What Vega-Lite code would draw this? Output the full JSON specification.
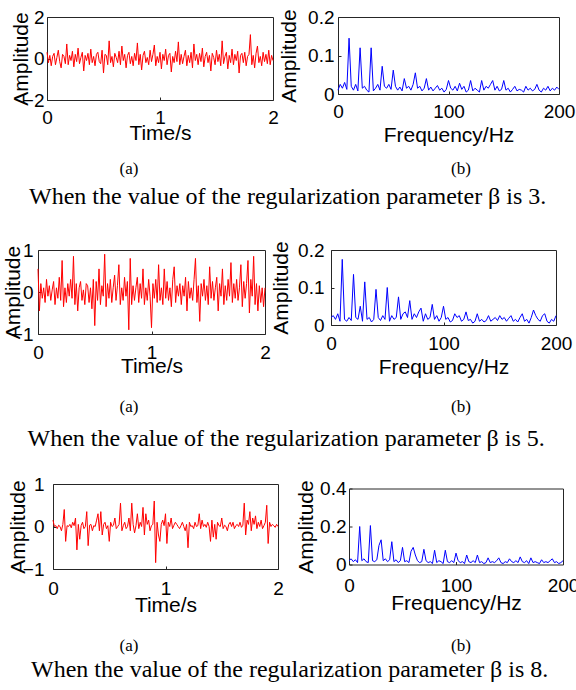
{
"$schema": "https://vega.github.io/schema/vega-lite/v6.json",
"background": "white",
"padding": {"left": 0, "top": 7, "right": 0, "bottom": 0},
"config": {
 "view": {"stroke": "#262626", "strokeWidth": 1},
 "axis": {"domain": false, "grid": false, "ticks": true, "tickSize": -3, "tickColor": "#262626", "labelFont": "Liberation Sans", "labelFontSize": 19, "labelColor": "#000", "titleFont": "Liberation Sans", "titleFontSize": 21, "titleFontWeight": "normal", "titleColor": "#000", "labelOverlap": false, "labelFlush": false, "format": "d"},
 "title": {"font": "Liberation Serif", "fontSize": 17, "fontWeight": "normal", "color": "#000", "orient": "bottom", "frame": "group", "anchor": "middle"}
},
"datasets": {
"time": [
{"t":0,"b3":0.3,"b5":0.55,"b8":0.15},{"t":0.0125,"b3":-0.2,"b5":-0.45,"b8":0},{"t":0.025,"b3":0.15,"b5":0.2,"b8":0.02},{"t":0.0375,"b3":-0.35,"b5":-0.15,"b8":-0.05},{"t":0.05,"b3":0.1,"b5":0.1,"b8":0.03},{"t":0.0625,"b3":0.25,"b5":-0.25,"b8":0},{"t":0.075,"b3":-0.3,"b5":0.3,"b8":-0.1},{"t":0.0875,"b3":0.05,"b5":-0.1,"b8":0.05},
{"t":0.1,"b3":0.4,"b5":0.15,"b8":0.4},{"t":0.1125,"b3":-0.15,"b5":-0.2,"b8":-0.35},{"t":0.125,"b3":-0.45,"b5":0.05,"b8":0.02},{"t":0.1375,"b3":0.2,"b5":0.25,"b8":0},{"t":0.15,"b3":0.1,"b5":-0.3,"b8":0.05},{"t":0.1625,"b3":-0.25,"b5":0.1,"b8":-0.03},{"t":0.175,"b3":0.7,"b5":-0.15,"b8":0.1},{"t":0.1875,"b3":-0.3,"b5":0.35,"b8":0.02},
{"t":0.2,"b3":0.15,"b5":-0.2,"b8":0.2},{"t":0.2125,"b3":-0.1,"b5":0.75,"b8":-0.55},{"t":0.225,"b3":0.35,"b5":-0.35,"b8":0.05},{"t":0.2375,"b3":-0.4,"b5":0.1,"b8":-0.3},{"t":0.25,"b3":0.2,"b5":-0.25,"b8":0.02},{"t":0.2625,"b3":-0.15,"b5":0.2,"b8":0.1},{"t":0.275,"b3":0.5,"b5":-0.1,"b8":-0.05},{"t":0.2875,"b3":-0.25,"b5":0.3,"b8":0},
{"t":0.3,"b3":0.05,"b5":-0.15,"b8":0.35},{"t":0.3125,"b3":0.3,"b5":0.85,"b8":-0.45},{"t":0.325,"b3":-0.6,"b5":-0.3,"b8":0.03},{"t":0.3375,"b3":0.15,"b5":0.2,"b8":0.05},{"t":0.35,"b3":-0.1,"b5":-0.45,"b8":-0.1},{"t":0.3625,"b3":0.25,"b5":0.1,"b8":0.02},{"t":0.375,"b3":-0.3,"b5":0.25,"b8":0},{"t":0.3875,"b3":0.45,"b5":-0.2,"b8":0.15},
{"t":0.4,"b3":-0.2,"b5":0.05,"b8":0.3},{"t":0.4125,"b3":0.1,"b5":-0.3,"b8":-0.1},{"t":0.425,"b3":-0.35,"b5":0.2,"b8":0.35},{"t":0.4375,"b3":0.2,"b5":0.15,"b8":-0.2},{"t":0.45,"b3":0.3,"b5":-0.25,"b8":0.05},{"t":0.4625,"b3":-0.15,"b5":0.1,"b8":0.1},{"t":0.475,"b3":-0.25,"b5":-0.4,"b8":-0.05},{"t":0.4875,"b3":0.4,"b5":0.3,"b8":0.02},
{"t":0.5,"b3":-0.7,"b5":-0.8,"b8":-0.35},{"t":0.5125,"b3":0.2,"b5":0.25,"b8":0.1},{"t":0.525,"b3":0.15,"b5":-0.2,"b8":0},{"t":0.5375,"b3":-0.3,"b5":0.55,"b8":0.03},{"t":0.55,"b3":0.85,"b5":-0.3,"b8":0.2},{"t":0.5625,"b3":-0.2,"b5":0.15,"b8":-0.05},{"t":0.575,"b3":0.1,"b5":-0.1,"b8":0},{"t":0.5875,"b3":-0.4,"b5":0.9,"b8":0.05},
{"t":0.6,"b3":0.25,"b5":-0.35,"b8":0.55},{"t":0.6125,"b3":0.05,"b5":0.2,"b8":-0.1},{"t":0.625,"b3":-0.2,"b5":-0.15,"b8":0.02},{"t":0.6375,"b3":0.35,"b5":0.3,"b8":0.1},{"t":0.65,"b3":-0.3,"b5":-0.25,"b8":-0.05},{"t":0.6625,"b3":0.6,"b5":0.1,"b8":0},{"t":0.675,"b3":-0.1,"b5":0.4,"b8":0.2},{"t":0.6875,"b3":0.2,"b5":-0.2,"b8":-0.1},
{"t":0.7,"b3":-0.45,"b5":0.15,"b8":0.55},{"t":0.7125,"b3":0.15,"b5":0.65,"b8":0.05},{"t":0.725,"b3":0.3,"b5":-0.3,"b8":-0.15},{"t":0.7375,"b3":-0.25,"b5":0.1,"b8":0.02},{"t":0.75,"b3":0.1,"b5":-0.2,"b8":0.3},{"t":0.7625,"b3":-0.35,"b5":0.35,"b8":-0.05},{"t":0.775,"b3":0.25,"b5":-0.1,"b8":0.1},{"t":0.7875,"b3":-0.1,"b5":0.25,"b8":0},
{"t":0.8,"b3":0.75,"b5":-0.9,"b8":0.45},{"t":0.8125,"b3":-0.3,"b5":0.8,"b8":-0.2},{"t":0.825,"b3":0.2,"b5":-0.3,"b8":0.3},{"t":0.8375,"b3":-0.55,"b5":0.15,"b8":0.05},{"t":0.85,"b3":0.15,"b5":-0.2,"b8":0.15},{"t":0.8625,"b3":0.35,"b5":0.1,"b8":-0.1},{"t":0.875,"b3":-0.2,"b5":0.35,"b8":0.02},{"t":0.8875,"b3":0.05,"b5":-0.25,"b8":0.05},
{"t":0.9,"b3":-0.3,"b5":0.2,"b8":0.6},{"t":0.9125,"b3":0.4,"b5":-0.15,"b8":-0.85},{"t":0.925,"b3":-0.15,"b5":0.55,"b8":0.1},{"t":0.9375,"b3":0.2,"b5":-0.3,"b8":-0.2},{"t":0.95,"b3":0.65,"b5":0.1,"b8":-0.35},{"t":0.9625,"b3":-0.35,"b5":-0.2,"b8":0.05},{"t":0.975,"b3":0.1,"b5":0.3,"b8":0.15},{"t":0.9875,"b3":-0.2,"b5":-0.1,"b8":0.02},
{"t":1,"b3":0.3,"b5":-0.85,"b8":0.3},{"t":1.0125,"b3":-0.5,"b5":0.2,"b8":-0.4},{"t":1.025,"b3":0.2,"b5":-0.15,"b8":0.1},{"t":1.0375,"b3":-0.1,"b5":0.3,"b8":0},{"t":1.05,"b3":0.45,"b5":-0.25,"b8":0.2},{"t":1.0625,"b3":-0.3,"b5":0.65,"b8":-0.05},{"t":1.075,"b3":0.15,"b5":-0.2,"b8":0.03},{"t":1.0875,"b3":0.25,"b5":0.1,"b8":0.1},
{"t":1.1,"b3":-0.65,"b5":-0.3,"b8":0.05},{"t":1.1125,"b3":0.1,"b5":0.55,"b8":0},{"t":1.125,"b3":-0.2,"b5":-0.15,"b8":-0.05},{"t":1.1375,"b3":0.35,"b5":0.25,"b8":0.02},{"t":1.15,"b3":-0.15,"b5":-0.2,"b8":0.1},{"t":1.1625,"b3":0.8,"b5":0.1,"b8":0},{"t":1.175,"b3":-0.3,"b5":-0.35,"b8":-0.1},{"t":1.1875,"b3":0.2,"b5":0.3,"b8":0.05},
{"t":1.2,"b3":-0.25,"b5":0.6,"b8":-0.5},{"t":1.2125,"b3":0.1,"b5":-0.25,"b8":0.1},{"t":1.225,"b3":0.4,"b5":0.15,"b8":0},{"t":1.2375,"b3":-0.35,"b5":-0.1,"b8":0.02},{"t":1.25,"b3":0.15,"b5":0.2,"b8":-0.05},{"t":1.2625,"b3":-0.2,"b5":-0.3,"b8":0.1},{"t":1.275,"b3":0.3,"b5":0.15,"b8":0},{"t":1.2875,"b3":-0.45,"b5":-0.1,"b8":0.02},
{"t":1.3,"b3":0.7,"b5":0.35,"b8":0.3},{"t":1.3125,"b3":-0.1,"b5":-0.45,"b8":-0.05},{"t":1.325,"b3":0.2,"b5":0.25,"b8":0.15},{"t":1.3375,"b3":-0.3,"b5":-0.15,"b8":0},{"t":1.35,"b3":0.25,"b5":0.1,"b8":0.05},{"t":1.3625,"b3":-0.15,"b5":-0.2,"b8":-0.02},{"t":1.375,"b3":0.5,"b5":0.3,"b8":0.1},{"t":1.3875,"b3":-0.4,"b5":0.8,"b8":0},
{"t":1.4,"b3":0.1,"b5":-0.25,"b8":-0.35},{"t":1.4125,"b3":0.3,"b5":0.15,"b8":0.15},{"t":1.425,"b3":-0.2,"b5":-0.7,"b8":-0.25},{"t":1.4375,"b3":0.15,"b5":0.2,"b8":0.05},{"t":1.45,"b3":-0.6,"b5":-0.1,"b8":-0.3},{"t":1.4625,"b3":0.25,"b5":0.3,"b8":0.1},{"t":1.475,"b3":0.05,"b5":-0.2,"b8":0.02},{"t":1.4875,"b3":-0.3,"b5":0.15,"b8":0},
{"t":1.5,"b3":0.4,"b5":-0.3,"b8":0.2},{"t":1.5125,"b3":-0.15,"b5":0.6,"b8":-0.05},{"t":1.525,"b3":0.2,"b5":-0.15,"b8":0.03},{"t":1.5375,"b3":-0.35,"b5":0.25,"b8":0},{"t":1.55,"b3":0.85,"b5":-0.2,"b8":-0.1},{"t":1.5625,"b3":-0.25,"b5":0.1,"b8":0.05},{"t":1.575,"b3":0.1,"b5":0.35,"b8":0.1},{"t":1.5875,"b3":0.3,"b5":-0.45,"b8":0},
{"t":1.6,"b3":-0.5,"b5":0.2,"b8":0.1},{"t":1.6125,"b3":0.15,"b5":-0.1,"b8":-0.05},{"t":1.625,"b3":-0.2,"b5":0.55,"b8":0.02},{"t":1.6375,"b3":0.45,"b5":-0.3,"b8":0.05},{"t":1.65,"b3":-0.3,"b5":0.15,"b8":0},{"t":1.6625,"b3":0.2,"b5":-0.2,"b8":0.1},{"t":1.675,"b3":-0.1,"b5":0.3,"b8":-0.02},{"t":1.6875,"b3":0.35,"b5":-0.1,"b8":0.03},
{"t":1.7,"b3":-0.7,"b5":0.7,"b8":0.55},{"t":1.7125,"b3":0.15,"b5":-0.25,"b8":-0.2},{"t":1.725,"b3":0.25,"b5":0.2,"b8":0.15},{"t":1.7375,"b3":-0.2,"b5":-0.15,"b8":0.05},{"t":1.75,"b3":0.3,"b5":0.3,"b8":0.35},{"t":1.7625,"b3":-0.35,"b5":-0.2,"b8":-0.1},{"t":1.775,"b3":0.1,"b5":0.1,"b8":0.2},{"t":1.7875,"b3":0.2,"b5":0.65,"b8":0.05},
{"t":1.8,"b3":1.15,"b5":-0.35,"b8":0.25},{"t":1.8125,"b3":-0.3,"b5":0.25,"b8":-0.05},{"t":1.825,"b3":0.15,"b5":-0.15,"b8":0.1},{"t":1.8375,"b3":-0.45,"b5":0.2,"b8":0},{"t":1.85,"b3":0.25,"b5":0.75,"b8":0.15},{"t":1.8625,"b3":0.6,"b5":-0.5,"b8":-0.05},{"t":1.875,"b3":-0.2,"b5":0.3,"b8":0.02},{"t":1.8875,"b3":0.1,"b5":-0.1,"b8":0.1},
{"t":1.9,"b3":-0.35,"b5":0.85,"b8":0.5},{"t":1.9125,"b3":0.3,"b5":-0.3,"b8":-0.4},{"t":1.925,"b3":-0.15,"b5":0.2,"b8":0.1},{"t":1.9375,"b3":0.2,"b5":-0.45,"b8":0},{"t":1.95,"b3":-0.25,"b5":0.15,"b8":0.05},{"t":1.9625,"b3":0.4,"b5":-0.25,"b8":0.02},{"t":1.975,"b3":-0.3,"b5":0.1,"b8":-0.02},{"t":1.9875,"b3":0.15,"b5":-0.35,"b8":0.05},
{"t":2,"b3":-0.1,"b5":0.1,"b8":0}
],
"spec": [
{"f":0,"b3":0.01,"b5":0.02,"b8":0.02},{"f":2,"b3":0.025,"b5":0.025,"b8":0.03},{"f":4,"b3":0.015,"b5":0.015,"b8":0.015},{"f":6,"b3":0.03,"b5":0.03,"b8":0.025},{"f":8,"b3":0.012,"b5":0.01,"b8":0.01},
{"f":10,"b3":0.145,"b5":0.175,"b8":0.2},{"f":12,"b3":0.02,"b5":0.015,"b8":0.02},{"f":14,"b3":0.01,"b5":0.01,"b8":0.03},{"f":16,"b3":0.025,"b5":0.02,"b8":0.015},{"f":18,"b3":0.008,"b5":0.012,"b8":0.01},
{"f":20,"b3":0.12,"b5":0.135,"b8":0.205},{"f":22,"b3":0.015,"b5":0.02,"b8":0.02},{"f":24,"b3":0.02,"b5":0.015,"b8":0.015},{"f":26,"b3":0.01,"b5":0.05,"b8":0.025},{"f":28,"b3":0.005,"b5":0.01,"b8":0.1},
{"f":30,"b3":0.12,"b5":0.115,"b8":0.13},{"f":32,"b3":0.008,"b5":0.015,"b8":0.02},{"f":34,"b3":0.015,"b5":0.02,"b8":0.03},{"f":36,"b3":0.025,"b5":0.008,"b8":0.015},{"f":38,"b3":0.01,"b5":0.015,"b8":0.025},
{"f":40,"b3":0.072,"b5":0.095,"b8":0.12},{"f":42,"b3":0.02,"b5":0.02,"b8":0.015},{"f":44,"b3":0.015,"b5":0.012,"b8":0.025},{"f":46,"b3":0.025,"b5":0.025,"b8":0.01},{"f":48,"b3":0.012,"b5":0.015,"b8":0.02},
{"f":50,"b3":0.062,"b5":0.1,"b8":0.09},{"f":52,"b3":0.02,"b5":0.01,"b8":0.015},{"f":54,"b3":0.01,"b5":0.025,"b8":0.02},{"f":56,"b3":0.018,"b5":0.015,"b8":0.01},{"f":58,"b3":0.008,"b5":0.02,"b8":0.07},
{"f":60,"b3":0.04,"b5":0.075,"b8":0.09},{"f":62,"b3":0.015,"b5":0.015,"b8":0.05},{"f":64,"b3":0.02,"b5":0.03,"b8":0.02},{"f":66,"b3":0.01,"b5":0.035,"b8":0.01},{"f":68,"b3":0.025,"b5":0.02,"b8":0.015},
{"f":70,"b3":0.055,"b5":0.065,"b8":0.08},{"f":72,"b3":0.015,"b5":0.015,"b8":0.02},{"f":74,"b3":0.02,"b5":0.03,"b8":0.01},{"f":76,"b3":0.008,"b5":0.02,"b8":0.015},{"f":78,"b3":0.015,"b5":0.035,"b8":0.005},
{"f":80,"b3":0.04,"b5":0.045,"b8":0.075},{"f":82,"b3":0.01,"b5":0.01,"b8":0.01},{"f":84,"b3":0.018,"b5":0.03,"b8":0.02},{"f":86,"b3":0.008,"b5":0.015,"b8":0.015},{"f":88,"b3":0.015,"b5":0.02,"b8":0.005},
{"f":90,"b3":0.022,"b5":0.055,"b8":0.075},{"f":92,"b3":0.01,"b5":0.015,"b8":0.015},{"f":94,"b3":0.015,"b5":0.025,"b8":0.01},{"f":96,"b3":0.005,"b5":0.01,"b8":0.02},{"f":98,"b3":0.012,"b5":0.02,"b8":0.01},
{"f":100,"b3":0.035,"b5":0.05,"b8":0.06},{"f":102,"b3":0.015,"b5":0.015,"b8":0.02},{"f":104,"b3":0.01,"b5":0.02,"b8":0.01},{"f":106,"b3":0.02,"b5":0.008,"b8":0.015},{"f":108,"b3":0.008,"b5":0.012,"b8":0.005},
{"f":110,"b3":0.028,"b5":0.03,"b8":0.05},{"f":112,"b3":0.012,"b5":0.02,"b8":0.015},{"f":114,"b3":0.02,"b5":0.025,"b8":0.01},{"f":116,"b3":0.005,"b5":0.01,"b8":0.02},{"f":118,"b3":0.01,"b5":0.015,"b8":0.01},
{"f":120,"b3":0.035,"b5":0.035,"b8":0.05},{"f":122,"b3":0.008,"b5":0.012,"b8":0.01},{"f":124,"b3":0.015,"b5":0.015,"b8":0.015},{"f":126,"b3":0.01,"b5":0.005,"b8":0.005},{"f":128,"b3":0.005,"b5":0.01,"b8":0.01},
{"f":130,"b3":0.035,"b5":0.03,"b8":0.035},{"f":132,"b3":0.01,"b5":0.01,"b8":0.01},{"f":134,"b3":0.02,"b5":0.015,"b8":0.015},{"f":136,"b3":0.015,"b5":0.008,"b8":0.01},{"f":138,"b3":0.025,"b5":0.012,"b8":0.02},
{"f":140,"b3":0.035,"b5":0.025,"b8":0.035},{"f":142,"b3":0.01,"b5":0.01,"b8":0.01},{"f":144,"b3":0.02,"b5":0.015,"b8":0.005},{"f":146,"b3":0.008,"b5":0.02,"b8":0.015},{"f":148,"b3":0.012,"b5":0.012,"b8":0.01},
{"f":150,"b3":0.035,"b5":0.025,"b8":0.03},{"f":152,"b3":0.01,"b5":0.015,"b8":0.015},{"f":154,"b3":0.015,"b5":0.02,"b8":0.01},{"f":156,"b3":0.005,"b5":0.01,"b8":0.02},{"f":158,"b3":0.012,"b5":0.018,"b8":0.01},
{"f":160,"b3":0.02,"b5":0.025,"b8":0.04},{"f":162,"b3":0.008,"b5":0.01,"b8":0.015},{"f":164,"b3":0.012,"b5":0.015,"b8":0.01},{"f":166,"b3":0.01,"b5":0.008,"b8":0.02},{"f":168,"b3":0.005,"b5":0.02,"b8":0.005},
{"f":170,"b3":0.02,"b5":0.03,"b8":0.035},{"f":172,"b3":0.01,"b5":0.01,"b8":0.01},{"f":174,"b3":0.015,"b5":0.015,"b8":0.015},{"f":176,"b3":0.008,"b5":0.005,"b8":0.01},{"f":178,"b3":0.012,"b5":0.02,"b8":0.005},
{"f":180,"b3":0.025,"b5":0.04,"b8":0.025},{"f":182,"b3":0.01,"b5":0.025,"b8":0.01},{"f":184,"b3":0.005,"b5":0.015,"b8":0.015},{"f":186,"b3":0.015,"b5":0.01,"b8":0.01},{"f":188,"b3":0.01,"b5":0.025,"b8":0.02},
{"f":190,"b3":0.02,"b5":0.03,"b8":0.03},{"f":192,"b3":0.008,"b5":0.01,"b8":0.01},{"f":194,"b3":0.015,"b5":0.005,"b8":0.015},{"f":196,"b3":0.01,"b5":0.015,"b8":0.005},{"f":198,"b3":0.018,"b5":0.01,"b8":0.01},
{"f":200,"b3":0.012,"b5":0.025,"b8":0.02}
]
},
"spacing": 30,
"vconcat": [
 {
  "spacing": 0,
  "title": {"text": "When the value of the regularization parameter β is 3.", "fontSize": 24, "offset": 8, "anchor": "middle", "frame": "bounds", "orient": "bottom"},
  "hconcat": [
   {"data": {"values": []}, "mark": "point", "width": 6, "height": 1, "view": {"stroke": null}},
   {
    "bounds": "flush", "spacing": 65,
    "hconcat": [
     {
      "data": {"name": "time"}, "width": 226, "height": 83,
      "title": {"text": "(a)", "offset": 17.4, "dx": -31},
      "mark": {"type": "line", "color": "#ff0000", "strokeWidth": 1},
      "encoding": {
       "x": {"field": "t", "type": "quantitative", "scale": {"domain": [0, 2], "nice": false}, "axis": {"values": [0, 1, 2], "title": "Time/s", "titleY": 22.5, "labelPadding": 11.6}},
       "y": {"field": "b3", "type": "quantitative", "scale": {"domain": [-2, 2], "nice": false, "zero": false}, "axis": {"values": [-2, 0, 2], "title": "Amplitude", "titleX": -16, "minExtent": 40, "labelPadding": 6}}
      }
     },
     {
      "data": {"name": "spec"}, "width": 221, "height": 77,
      "title": {"text": "(b)", "offset": 15.4, "dx": 12.5},
      "mark": {"type": "line", "color": "#0000ff", "strokeWidth": 1},
      "encoding": {
       "x": {"field": "f", "type": "quantitative", "scale": {"domain": [0, 200], "nice": false}, "axis": {"values": [0, 100, 200], "title": "Frequency/Hz", "titleY": 30.5, "labelPadding": 11.6}},
       "y": {"field": "b3", "type": "quantitative", "scale": {"domain": [0, 0.2], "nice": false}, "axis": {"values": [0, 0.1, 0.2], "format": "~g", "title": "Amplitude", "titleX": -39, "labelPadding": 7}}
      }
     }
    ]
   }
  ]
 },
 {
  "spacing": 23,
  "vconcat": [
   {
    "spacing": 0,
    "title": {"text": "When the value of the regularization parameter β is 5.", "fontSize": 24, "offset": 12, "anchor": "middle", "frame": "bounds", "orient": "bottom"},
    "hconcat": [
     {"data": {"values": []}, "mark": "point", "width": 1, "height": 1, "view": {"stroke": null}},
     {
      "bounds": "flush", "spacing": 66,
      "hconcat": [
       {
        "data": {"name": "time"}, "width": 227, "height": 84,
        "title": {"text": "(a)", "offset": 22, "dx": -22.5},
        "mark": {"type": "line", "color": "#ff0000", "strokeWidth": 1},
        "encoding": {
         "x": {"field": "t", "type": "quantitative", "scale": {"domain": [0, 2], "nice": false}, "axis": {"values": [0, 1, 2], "title": "Time/s", "titleY": 21.5, "labelPadding": 12.3}},
         "y": {"field": "b5", "type": "quantitative", "scale": {"domain": [-1, 1], "nice": false, "zero": false}, "axis": {"values": [-1, 0, 1], "title": "Amplitude", "titleX": -15, "minExtent": 36, "labelPadding": 8}}
        }
       },
       {
        "data": {"name": "spec"}, "width": 225, "height": 75,
        "title": {"text": "(b)", "offset": 21, "dx": 17.5},
        "mark": {"type": "line", "color": "#0000ff", "strokeWidth": 1},
        "encoding": {
         "x": {"field": "f", "type": "quantitative", "scale": {"domain": [0, 200], "nice": false}, "axis": {"values": [0, 100, 200], "title": "Frequency/Hz", "titleY": 31.5, "labelPadding": 12.6}},
         "y": {"field": "b5", "type": "quantitative", "scale": {"domain": [0, 0.2], "nice": false}, "axis": {"values": [0, 0.1, 0.2], "format": "~g", "title": "Amplitude", "titleX": -40, "labelPadding": 10}}
        }
       }
      ]
     }
    ]
   },
   {
    "spacing": 0,
    "title": {"text": "When the value of the regularization parameter β is 8.", "fontSize": 24, "offset": 3, "anchor": "middle", "frame": "bounds", "orient": "bottom"},
    "hconcat": [
     {"data": {"values": []}, "mark": "point", "width": 4, "height": 1, "view": {"stroke": null}},
     {
      "bounds": "flush", "spacing": 71, "center": true,
      "hconcat": [
       {
        "data": {"name": "time"}, "width": 225, "height": 85,
        "title": {"text": "(a)", "offset": 22.5, "dx": -36.5},
        "mark": {"type": "line", "color": "#ff0000", "strokeWidth": 1},
        "encoding": {
         "x": {"field": "t", "type": "quantitative", "scale": {"domain": [0, 2], "nice": false}, "axis": {"values": [0, 1, 2], "title": "Time/s", "titleY": 25.5, "labelPadding": 13.6}},
         "y": {"field": "b8", "type": "quantitative", "scale": {"domain": [-1, 1], "nice": false, "zero": false}, "axis": {"values": [-1, 0, 1], "title": "Amplitude", "titleX": -25, "minExtent": 48, "labelPadding": 12}}
        }
       },
       {
        "data": {"name": "spec"}, "width": 214, "height": 76,
        "title": {"text": "(b)", "offset": 25, "dx": 5},
        "mark": {"type": "line", "color": "#0000ff", "strokeWidth": 1},
        "encoding": {
         "x": {"field": "f", "type": "quantitative", "scale": {"domain": [0, 200], "nice": false}, "axis": {"values": [0, 100, 200], "title": "Frequency/Hz", "titleY": 27.5, "labelPadding": 14.6}},
         "y": {"field": "b8", "type": "quantitative", "scale": {"domain": [0, 0.4], "nice": false}, "axis": {"values": [0, 0.2, 0.4], "format": "~g", "title": "Amplitude", "titleX": -33, "labelPadding": 6}}
        }
       }
      ]
     }
    ]
   }
  ]
 }
]
}
